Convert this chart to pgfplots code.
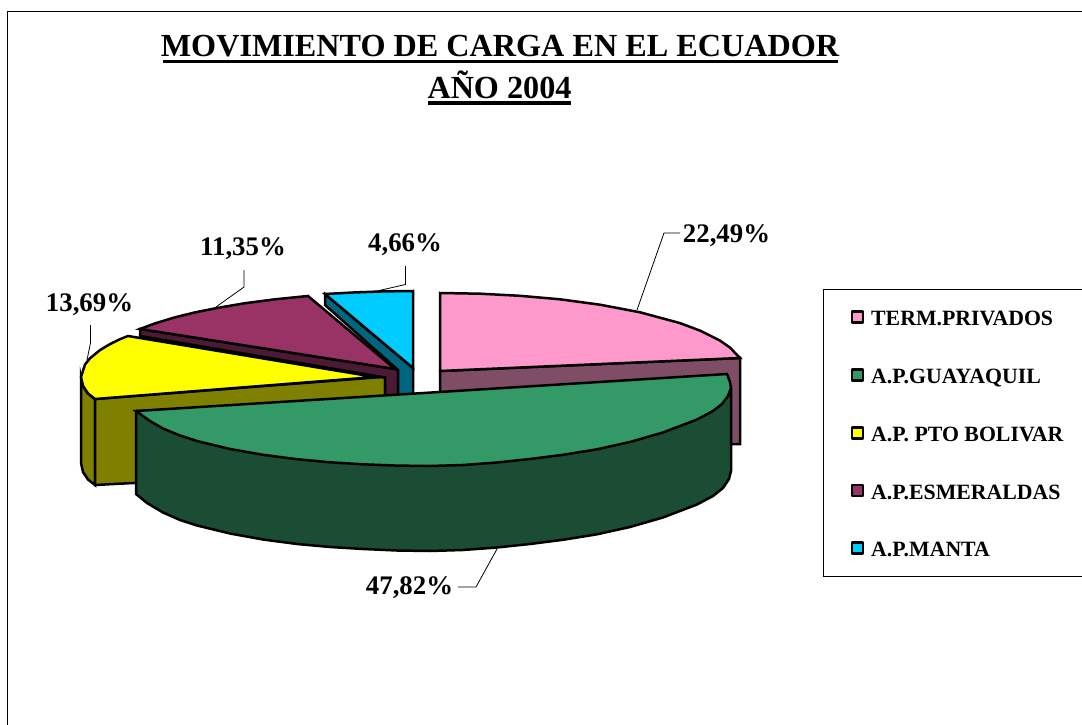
\documentclass[border=0pt]{standalone}
\usepackage{fontspec}
\setmainfont{Liberation Serif}
\usepackage{xcolor}
\usepackage{pgfplots}
\pgfplotsset{compat=1.18}
\definecolor{rosa}{HTML}{FF99CC}
\definecolor{rosaosc}{HTML}{804D66}
\definecolor{verde}{HTML}{339966}
\definecolor{verdeosc}{HTML}{1A4D33}
\definecolor{amarillo}{HTML}{FFFF00}
\definecolor{amarilloosc}{HTML}{808000}
\definecolor{vino}{HTML}{993366}
\definecolor{vinoosc}{HTML}{4D1A33}
\definecolor{celeste}{HTML}{00CCFF}
\definecolor{celesteosc}{HTML}{006680}
\tikzset{
  pieza/.style={draw=black, line width=2.5pt},
  cuad/.style={draw=black, line width=2.4pt, line join=round, fill=#1},
  guia/.style={draw=black, line width=0.8pt},
  etq/.style={font=\fontsize{26.8}{30}\selectfont\bfseries, anchor=base, inner sep=0pt},
  ley/.style={font=\fontsize{21.8}{24}\selectfont\bfseries, anchor=base west, inner sep=0pt},
  tit/.style={font=\fontsize{32.2}{36}\selectfont\bfseries, anchor=base, inner sep=0pt},
}
\begin{document}
\begin{tikzpicture}
\begin{axis}[
  scale only axis, width=1082pt, height=725pt,
  xmin=0, xmax=1082, ymin=0, ymax=725,
  y dir=reverse, axis lines=none, clip=true,
  every axis plot/.append style={no markers, line join=miter},
]
% fondo y marco
\addplot[fill=white, draw=none] coordinates {(0,0)(1082,0)(1082,725)(0,725)} -- cycle;
\addplot[draw=black, line width=1pt] coordinates {(7,725)(7,12)(1082,12)};

% lados (de atras hacia delante)
\addplot[pieza, fill=rosaosc] coordinates {(440,371)(740,358)(740,444)(440,444)} -- cycle;
\addplot[pieza, fill=amarilloosc] coordinates {(81,377)(83,386)(88,393.5)(95,399)(95,485)(88,479.5)(83,472)(81,463)} -- cycle;
\addplot[pieza, fill=amarilloosc] coordinates {(95,399)(375,377.5)(385,377)(385,470)(95,485)} -- cycle;
\addplot[pieza, fill=vinoosc] coordinates {(140,329)(395,369)(398,370)(398,400)(385,400)(385,377.5)(140,336)} -- cycle;
\addplot[pieza, fill=celesteosc] coordinates {(325,294)(413,368)(413,400)(398,400)(398,370)(325,305)} -- cycle;

% caras superiores
\addplot[pieza, fill=rosa] coordinates {(440,371)(440,293)(480,293.7)(520,295.8)(560,299.3)(600,304.7)(640,312.3)(680,323.1)(700,330.6)(720,340.6)(730,347.6)(740,358)} -- cycle;
\addplot[pieza, fill=amarillo] coordinates {(375,377)(128,336)(120,339.2)(110,344.1)(100,350.1)(90,358.3)(85,364.5)(81,377)(83,385.8)(88,393.5)(95,399)} -- cycle;
\addplot[pieza, fill=vino] coordinates {(395,369)(140,329)(155,323.4)(175,317.3)(195,312.4)(217,308)(245,303.2)(275,299.3)(308,296)} -- cycle;
\addplot[pieza, fill=celeste] coordinates {(413,368)(325,294)(353,292.5)(383,291.4)(413,291)} -- cycle;

% rebanada verde
\addplot[pieza, fill=verdeosc] coordinates {(136,411)(136,494)(147,503)(163,512.5)(180,520)(197,525.5)(230,533.5)(263,539.5)(297,544)(330,547)(363,549)(397,550.5)(430,551)(463,550)(497,547.5)(530,544)(563,539.8)(597,534.3)(630,527)(663,517.5)(697,504.5)(713,496)(723,488)(729,479)(731,471)(731,389)} -- cycle;
\addplot[pieza, fill=verde] coordinates {(136,411)(150,421)(163,428.5)(180,435.5)(197,441)(230,449)(263,454.8)(297,459.2)(330,462.3)(363,464.3)(397,465.6)(430,466)(463,465)(497,462.5)(530,459)(563,454.8)(597,449.3)(630,442)(663,432.5)(697,419.5)(713,411)(722,404)(728,396)(731,388)(730,382)(727,374)} -- cycle;

% guias de las etiquetas
\addplot[guia] coordinates {(637,310)(664,233)(680,233)};
\addplot[guia] coordinates {(497,549)(476,587)(458,587)};
\addplot[guia] coordinates {(377,291)(405.5,284.5)(405.5,266)};
\addplot[guia] coordinates {(216,307)(244,287)(244,270)};
\addplot[guia] coordinates {(87,360)(90.5,343)(90.5,325)};

% titulo
\node[tit] at (axis cs:500,57) {MOVIMIENTO DE CARGA EN EL ECUADOR};
\node[tit] at (axis cs:499.5,98.5) {AÑO 2004};
\addplot[draw=black, line width=3.4pt] coordinates {(163,61.5)(838,61.5)};
\addplot[draw=black, line width=3.4pt] coordinates {(428,103)(571,103)};

% porcentajes
\node[etq] at (axis cs:726.5,242.5) {22,49\%};
\node[etq] at (axis cs:409.5,594.5) {47,82\%};
\node[etq] at (axis cs:89.5,311.5) {13,69\%};
\node[etq] at (axis cs:243,255.5) {11,35\%};
\node[etq] at (axis cs:405,251.5) {4,66\%};

% leyenda
\addplot[draw=black, line width=1pt, fill=white] coordinates {(1090,289)(823,289)(823,576)(1090,576)} -- cycle;
\addplot[cuad=rosa] coordinates {(852,311.5)(863,311.5)(863,322.5)(852,322.5)} -- cycle;
\addplot[cuad=verde] coordinates {(852,369.5)(863,369.5)(863,380.5)(852,380.5)} -- cycle;
\addplot[cuad=amarillo] coordinates {(852,427.5)(863,427.5)(863,438.5)(852,438.5)} -- cycle;
\addplot[cuad=vino] coordinates {(852,485)(863,485)(863,496)(852,496)} -- cycle;
\addplot[cuad=celeste] coordinates {(852,542.5)(863,542.5)(863,553.5)(852,553.5)} -- cycle;
\node[ley] at (axis cs:871,325) {TERM.PRIVADOS};
\node[ley] at (axis cs:871,383) {A.P.GUAYAQUIL};
\node[ley] at (axis cs:871,441) {A.P. PTO BOLIVAR};
\node[ley] at (axis cs:871,499) {A.P.ESMERALDAS};
\node[ley] at (axis cs:871,556) {A.P.MANTA};
\end{axis}
\end{tikzpicture}
\end{document}
